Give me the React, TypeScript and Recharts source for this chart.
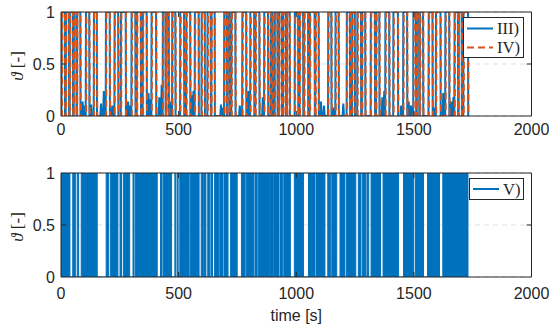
import { ComposedChart, Line, Area, XAxis, YAxis, CartesianGrid, ReferenceLine } from 'recharts';

const X_TICKS = [0, 500, 1000, 1500, 2000];
const Y_TICKS = [0, 0.5, 1];

// [start, end] in s where the signal sits at 1 (top panel)
const pulsesIII = [
  [2, 17], [20, 34], [37, 51], [54, 66], [68, 83], [105, 121], [139, 153], [190, 208], [227, 244], [254, 276],
  [299, 317], [322, 340], [347, 365], [384, 405], [432, 445], [448, 459], [472, 487], [506, 524], [532, 550], [568, 586],
  [597, 612], [622, 637], [639, 654], [693, 705], [707, 717], [724, 742], [770, 788], [804, 822], [826, 844], [863, 881],
  [891, 900], [908, 921], [926, 939], [944, 957], [960, 973], [993, 1009], [1014, 1030], [1033, 1051], [1057, 1079], [1081, 1096],
  [1135, 1150], [1166, 1181], [1214, 1229], [1237, 1250], [1259, 1276], [1279, 1294], [1316, 1335], [1339, 1354], [1378, 1396], [1412, 1433],
  [1454, 1472], [1497, 1510], [1512, 1523], [1525, 1540], [1562, 1580], [1593, 1614], [1633, 1651], [1672, 1688], [1690, 1704], [1710, 1731],
];

const pulsesIV = [
  [4, 18], [21, 35], [38, 52], [55, 67], [69, 84], [107, 122], [140, 154], [192, 209], [228, 245], [256, 277],
  [301, 318], [324, 341], [349, 366], [386, 406], [434, 446], [449, 460], [474, 488], [508, 525], [534, 551], [570, 587],
  [599, 613], [624, 638], [640, 655], [695, 706], [708, 718], [726, 743], [772, 789], [806, 823], [828, 845], [865, 882],
  [893, 901], [910, 922], [928, 940], [946, 958], [962, 974], [995, 1010], [1016, 1031], [1035, 1052], [1059, 1080], [1083, 1097],
  [1137, 1151], [1168, 1182], [1216, 1230], [1239, 1251], [1261, 1277], [1281, 1295], [1318, 1336], [1341, 1355], [1380, 1397], [1414, 1434],
  [1456, 1473], [1499, 1511], [1513, 1524], [1527, 1541], [1564, 1581], [1595, 1615], [1635, 1652], [1674, 1689], [1691, 1705], [1712, 1732],
];

// small residual spikes of III between pulses: [t, value]
const bumpsIII = [
  [92, 0.14], [100, 0.1], [128, 0.11], [170, 0.12], [182, 0.24], [218, 0.1], [285, 0.14], [292, 0.1],
  [372, 0.22], [380, 0.16], [418, 0.18], [428, 0.3], [467, 0.14], [556, 0.2], [563, 0.24], [680, 0.11],
  [688, 0.08], [760, 0.1], [797, 0.24], [858, 0.18], [904, 0.16], [1105, 0.14], [1118, 0.1], [1157, 0.08],
  [1200, 0.12], [1366, 0.18], [1374, 0.24], [1446, 0.1], [1478, 0.14], [1488, 0.1], [1588, 0.08], [1625, 0.22],
  [1660, 0.14], [1668, 0.18],
];

// [start, end] in s where V is switching on (bottom panel)
const pulsesV = [
  [0, 38], [50, 61], [69, 75], [86, 154], [192, 203], [211, 242], [251, 257], [265, 292], [306, 310], [315, 409],
  [423, 429], [434, 470], [484, 488], [494, 498], [505, 545], [551, 587], [596, 604], [607, 616], [624, 633], [638, 644],
  [653, 670], [675, 689], [695, 710], [721, 749], [767, 783], [789, 820], [825, 834], [840, 882], [885, 899], [904, 927],
  [933, 941], [947, 975], [992, 1031], [1052, 1080], [1086, 1122], [1134, 1145], [1151, 1172], [1186, 1207], [1214, 1253], [1264, 1275],
  [1281, 1296], [1301, 1308], [1318, 1358], [1369, 1435], [1456, 1499], [1506, 1541], [1558, 1609], [1623, 1730],
];

const BLUE = '#0072BD';
const ORANGE = '#D95319';
const AX = '#262626';
const SANS = '"Liberation Sans", Arial, Helvetica, sans-serif';
const SERIF = '"Liberation Serif", "DejaVu Serif", "Times New Roman", serif';

type Pt = { t: number; v: number };

const pulsePoints = (pulses: number[][], bumps: number[][] = [], ramp = 1) => {
  const pts: Pt[] = [{ t: 0, v: 0 }];
  pulses.forEach(([a, b]) => {
    pts.push({ t: a, v: 0 }, { t: a + ramp, v: 1 }, { t: b - ramp, v: 1 }, { t: b, v: 0 });
  });
  bumps.forEach(([t, v]) => {
    pts.push({ t: t - 3, v: 0 }, { t, v }, { t: t + 3, v: 0 });
  });
  return pts.sort((p, q) => p.t - q.t);
};

const dataIII = pulsePoints(pulsesIII, bumpsIII);
const dataIV = pulsePoints(pulsesIV);
const dataV = pulsePoints(pulsesV, [], 0);

const tickStyle = { fill: AX, fontSize: 16, fontFamily: SANS };

// inner tick marks + top/right box edges, MATLAB style
const frame = (tickY: number, tickX: number) => [
  <ReferenceLine key="top" y={1} stroke={AX} strokeWidth={1} />,
  <ReferenceLine key="right" x={2000} stroke={AX} strokeWidth={1} />,
  ...[500, 1000, 1500].flatMap((t) => [
    <ReferenceLine key={`b${t}`} segment={[{ x: t, y: 0 }, { x: t, y: tickY }]} stroke={AX} />,
    <ReferenceLine key={`t${t}`} segment={[{ x: t, y: 1 }, { x: t, y: 1 - tickY }]} stroke={AX} />,
  ]),
  <ReferenceLine key="l05" segment={[{ x: 0, y: 0.5 }, { x: tickX, y: 0.5 }]} stroke={AX} />,
  <ReferenceLine key="r05" segment={[{ x: 2000, y: 0.5 }, { x: 2000 - tickX, y: 0.5 }]} stroke={AX} />,
];

const yLabel = (props: any) => {
  const vb = props.viewBox || { x: 11, y: 0, height: 100 };
  const cx = vb.x + 6;
  const cy = vb.y + vb.height / 2 + 2;
  return (
    <text
      transform={`translate(${cx},${cy}) rotate(-90)`}
      textAnchor="middle"
      dominantBaseline="central"
      fill={AX}
      fontSize={17}
      fontFamily={SERIF}
    >
      <tspan fontStyle="italic">ϑ</tspan> [-]
    </text>
  );
};

const axes = (xHeight: number, tickMargin: number, xLabel?: string) => [
  <CartesianGrid key="grid" vertical={false} stroke="#dfdfdf" strokeDasharray="5 4" />,
  <XAxis
    key="x"
    dataKey="t"
    type="number"
    domain={[0, 2000]}
    ticks={X_TICKS}
    allowDataOverflow
    height={xHeight}
    tickLine={false}
    tickSize={0}
    tickMargin={tickMargin}
    axisLine={{ stroke: AX }}
    tick={tickStyle}
    label={
      xLabel
        ? { value: xLabel, position: 'insideBottom', offset: 6, fill: AX, fontSize: 16, fontFamily: SANS }
        : undefined
    }
  />,
  <YAxis
    key="y"
    type="number"
    domain={[0, 1]}
    ticks={Y_TICKS}
    allowDataOverflow
    width={50}
    tickLine={false}
    tickSize={0}
    tickMargin={6}
    axisLine={{ stroke: AX }}
    tick={tickStyle}
    tickFormatter={(v: number) => String(v)}
    label={{ content: yLabel }}
  />,
];

const LegendBox = ({ left, top, width, height, items }: any) => (
  <svg
    width={width}
    height={height}
    style={{ position: 'absolute', left, top, overflow: 'visible' }}
  >
    <rect x={0.5} y={0.5} width={width - 1} height={height - 1} fill="#fff" stroke={AX} strokeWidth={1} />
    {items.map((it: any, i: number) => (
      <g key={i}>
        <line
          x1={4}
          x2={30}
          y1={it.y}
          y2={it.y}
          stroke={it.color}
          strokeWidth={2}
          strokeDasharray={it.dash}
        />
        <text x={34} y={it.y} dominantBaseline="central" fontSize={16.5} fontFamily={SERIF} fill={AX}>
          {it.label}
        </text>
      </g>
    ))}
  </svg>
);

export default function App() {
  return (
    <div style={{ position: 'absolute', left: 0, top: 0, width: 549, height: 327, background: '#fff' }}>
      <div style={{ position: 'absolute', left: 0, top: 0 }}>
        <ComposedChart width={549} height={140} margin={{ top: 12, right: 17.5, bottom: 0, left: 11 }}>
          {axes(24, 8)}
          <Line
            data={dataIII}
            dataKey="v"
            type="linear"
            stroke={BLUE}
            strokeWidth={2}
            dot={false}
            isAnimationActive={false}
          />
          <Line
            data={dataIV}
            dataKey="v"
            type="linear"
            stroke={ORANGE}
            strokeWidth={2}
            strokeDasharray="7 4"
            dot={false}
            isAnimationActive={false}
          />
          {frame(0.048, 21)}
        </ComposedChart>
      </div>
      <div style={{ position: 'absolute', left: 0, top: 160 }}>
        <ComposedChart width={549} height={167} margin={{ top: 13, right: 17.5, bottom: 0, left: 11 }}>
          {axes(50, 11, 'time [s]')}
          <Area
            data={dataV}
            dataKey="v"
            type="linear"
            stroke={BLUE}
            strokeWidth={1}
            fill={BLUE}
            fillOpacity={1}
            dot={false}
            isAnimationActive={false}
          />
          {frame(0.048, 21)}
        </ComposedChart>
      </div>
      <LegendBox
        left={463}
        top={17}
        width={61}
        height={41}
        items={[
          { y: 11.5, color: BLUE, label: 'III)' },
          { y: 30.5, color: ORANGE, label: 'IV)', dash: '7 4' },
        ]}
      />
      <LegendBox
        left={469}
        top={178}
        width={55}
        height={22}
        items={[{ y: 11, color: BLUE, label: 'V)' }]}
      />
    </div>
  );
}
